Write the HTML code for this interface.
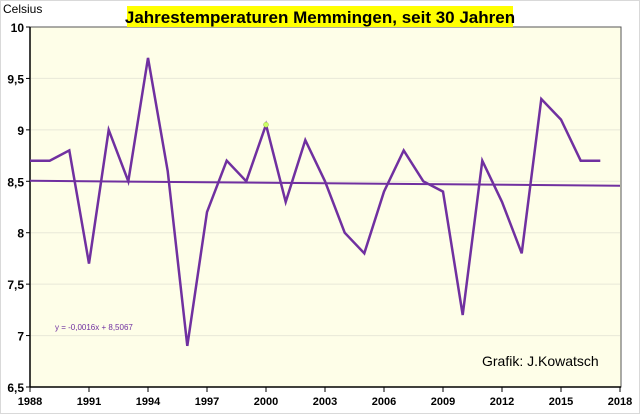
<!DOCTYPE html>
<html><head><meta charset="utf-8"><style>
html,body{margin:0;padding:0;background:#fff}
svg{display:block;font-family:"Liberation Sans",Arial,sans-serif}
</style></head><body>
<svg width="640" height="414" viewBox="0 0 640 414">
<rect x="0.5" y="0.5" width="639" height="413" fill="#fff" stroke="#d9d9d9"/>
<rect x="30" y="27" width="591" height="360" fill="#fefee8" stroke="#555" stroke-width="1"/>
<g id="grid"></g>
<g id="axes"></g>
<g id="series"></g>
<rect x="127" y="6" width="386" height="21" fill="#ffff00"/>
<text x="320" y="23" text-anchor="middle" font-size="17" font-weight="bold" fill="#000">Jahrestemperaturen Memmingen, seit 30 Jahren</text>
<text x="3" y="13" font-size="12" fill="#000">Celsius</text>
<text x="55" y="330" font-size="8" fill="#7030a0">y = -0,0016x + 8,5067</text>
<text x="482" y="366" font-size="14" fill="#000">Grafik: J.Kowatsch</text>
</svg>
<script>
const years=[1988,1989,1990,1991,1992,1993,1994,1995,1996,1997,1998,1999,2000,2001,2002,2003,2004,2005,2006,2007,2008,2009,2010,2011,2012,2013,2014,2015,2016,2017];
const temps=[8.7,8.7,8.8,7.7,9.0,8.5,9.7,8.6,6.9,8.2,8.7,8.5,9.05,8.3,8.9,8.5,8.0,7.8,8.4,8.8,8.5,8.4,7.2,8.7,8.3,7.8,9.3,9.1,8.7,8.7];
const yTicks=[6.5,7,7.5,8,8.5,9,9.5,10];
const yTickLabels=["6,5","7","7,5","8","8,5","9","9,5","10"];
const xTicks=[1988,1991,1994,1997,2000,2003,2006,2009,2012,2015,2018];
const trendSlope=-0.0016, trendIntercept=8.5067;
const NS="http://www.w3.org/2000/svg";
const X=y=>30+(y-1988)*(590/30);
const Y=v=>387-(v-6.5)*(360/3.5);
function mk(tag,attrs,parent,txt){const e=document.createElementNS(NS,tag);for(const k in attrs)e.setAttribute(k,attrs[k]);if(txt!==undefined)e.textContent=txt;document.getElementById(parent).appendChild(e);return e;}
yTicks.forEach((t,i)=>{
 if(t>6.5&&t<10){const g=mk('line',{x1:31,x2:620,y1:Y(t),y2:Y(t),stroke:'#e8e8d8','stroke-width':1},'grid');
 
 }
 const tk=mk('line',{x1:26,x2:30,y1:Y(t),y2:Y(t),stroke:'#000'},'axes');
 
 
 const l=mk('text',{x:24,y:Y(t)+5,'text-anchor':'end','font-size':12,'font-weight':'bold'},'axes',yTickLabels[i]);
 
 
});
const ax=mk('line',{x1:30,x2:30,y1:27,y2:387,stroke:'#000','stroke-width':1.5},'axes');


const bx=mk('line',{x1:30,x2:621,y1:387,y2:387,stroke:'#000','stroke-width':1.5},'axes');


xTicks.forEach(t=>{
 const tk=mk('line',{x1:X(t),x2:X(t),y1:387,y2:392,stroke:'#000'},'axes');
 
 
 const l=mk('text',{x:X(t),y:405,'text-anchor':'middle','font-size':11,'font-weight':'bold'},'axes',String(t));
 
 
});
const tr=mk('line',{x1:X(1988),y1:Y(trendIntercept+trendSlope*1),x2:X(2018),y2:Y(trendIntercept+trendSlope*31),stroke:'#7030a0','stroke-width':2},'series');


const pts=years.map((y,i)=>X(y).toFixed(1)+','+Y(temps[i]).toFixed(1)).join(' ');
const pl=mk('polyline',{points:pts,fill:'none',stroke:'#7030a0','stroke-width':2.5,'stroke-linejoin':'miter'},'series');


const i2000=years.indexOf(2000);
const m=mk('circle',{cx:X(2000),cy:Y(temps[i2000]),r:2.5,fill:'#ccff66',stroke:'#99bb44','stroke-width':0.5},'series');


</script>
</body></html>
